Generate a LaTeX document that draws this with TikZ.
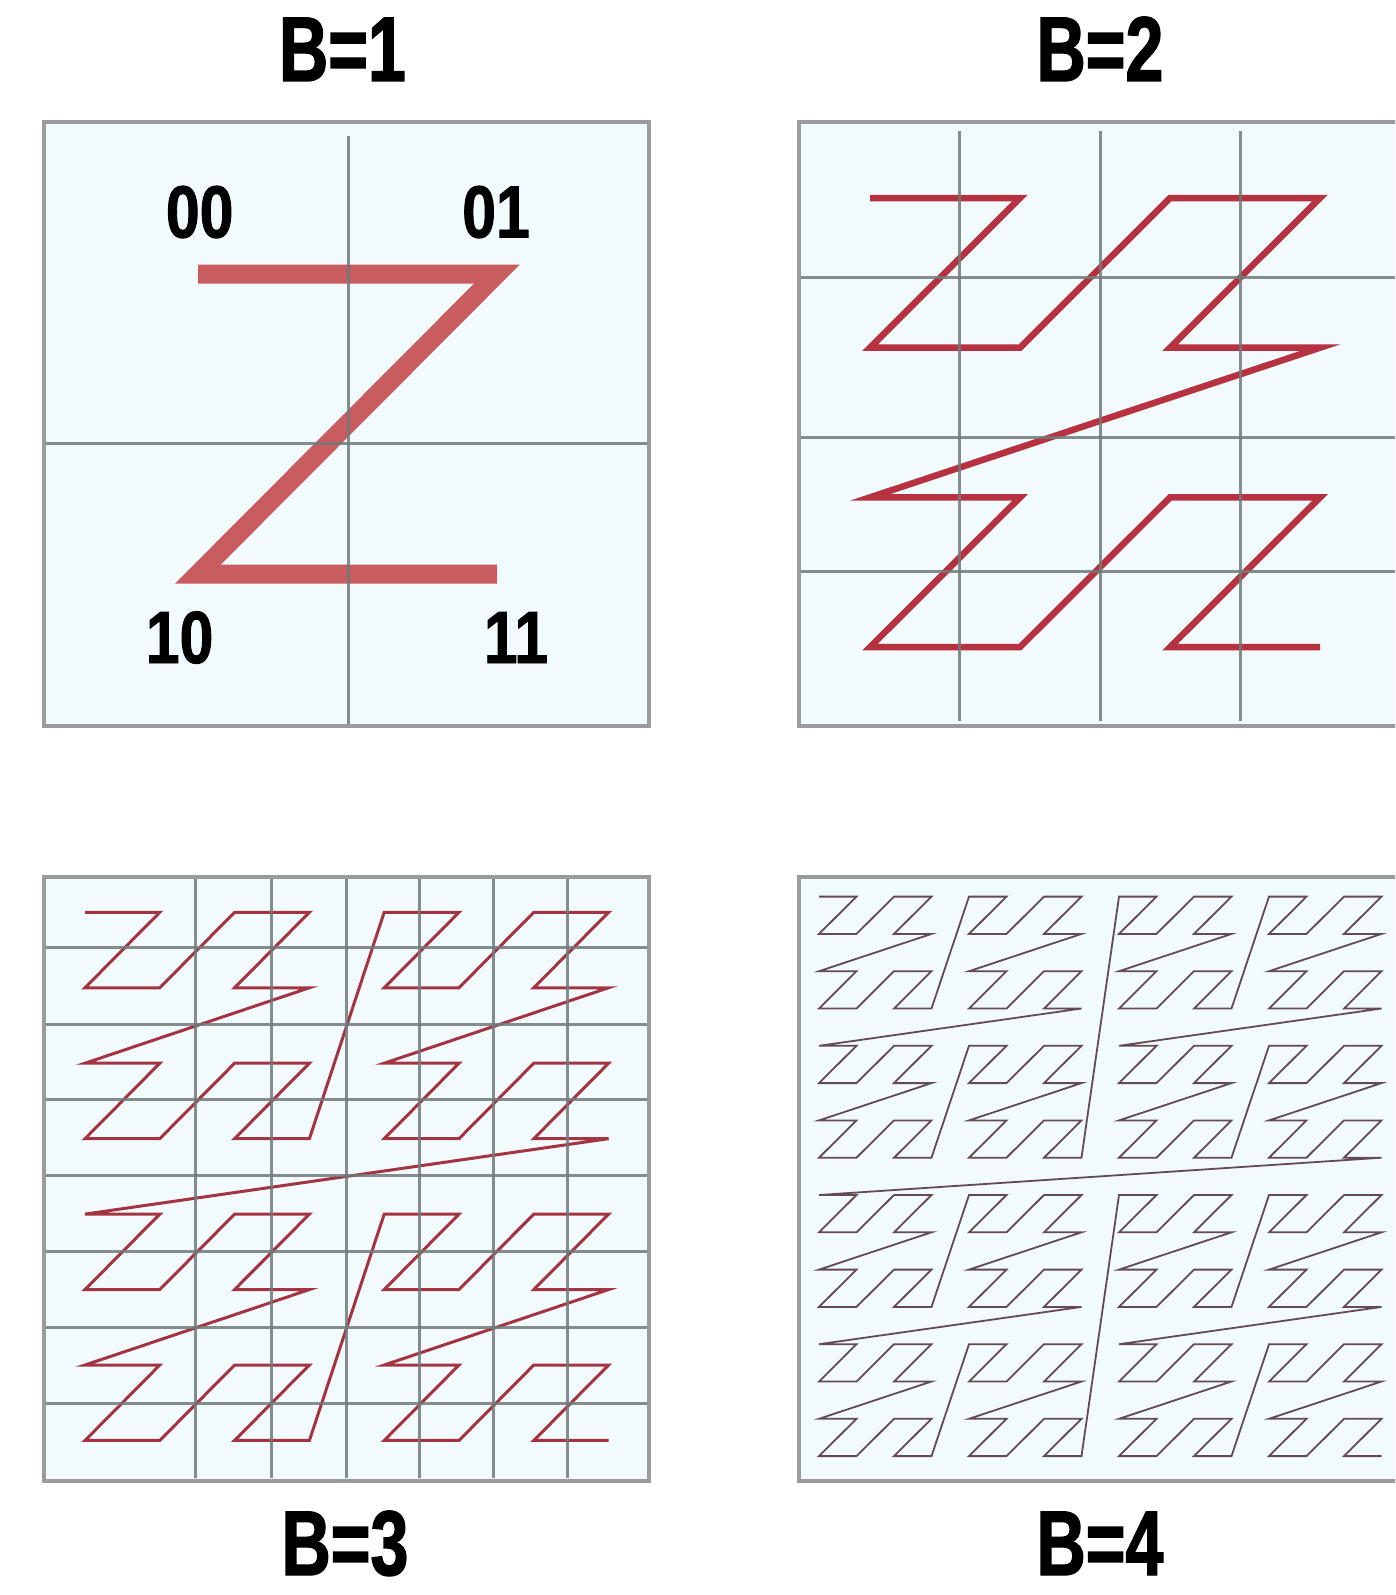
\documentclass[tikz,border=0pt]{standalone}
\usepackage{fontspec}
\newfontfamily\titlefont[FakeStretch=0.74,FakeBold=1.5]{Liberation Sans}
\newfontfamily\bitfont[FakeStretch=0.82,FakeBold=1.2]{Liberation Sans}
\definecolor{panelbg}{RGB}{241,250,252}
\definecolor{panelrim}{RGB}{155,155,155}
\definecolor{gridgray}{RGB}{112,122,122}
\definecolor{zoneA}{RGB}{200,92,94}
\definecolor{zoneB}{RGB}{182,50,64}
\definecolor{zoneC}{RGB}{165,52,66}
\definecolor{zoneD}{RGB}{100,74,82}
% column and row of the n-th point of a Z-order curve
\pgfmathdeclarefunction{zcol}{1}{\pgfmathparse{int(mod(#1,2)+2*mod(floor(#1/4),2)+4*mod(floor(#1/16),2)+8*mod(floor(#1/64),2))}}
\pgfmathdeclarefunction{zrow}{1}{\pgfmathparse{int(mod(floor(#1/2),2)+2*mod(floor(#1/8),2)+4*mod(floor(#1/32),2)+8*mod(floor(#1/128),2))}}
\tikzset{
  panel/.style={fill=panelbg,draw=panelrim,line width=4pt},
  rim/.style={draw=panelrim,line width=4pt},
  gridline/.style={draw=gridgray,line width=3pt,opacity=0.85},
  title/.style={inner sep=0pt,anchor=base,font=\titlefont\bfseries\fontsize{92}{100}\selectfont},
  bits/.style={inner sep=0pt,anchor=base,font=\bitfont\bfseries\fontsize{74}{80}\selectfont},
  zline/.style={line join=miter,line cap=butt}
}
% #1 style, (#2,#3) first point, #4 column step, #5 row step, #6 last index
\newcommand\zcurve[6]{%
  \draw[zline,#1] (#2,#3) \foreach \n in {1,...,#6} { -- ({#2+#4*zcol(\n)},{#3+#5*zrow(\n)}) };}
\begin{document}
\begin{tikzpicture}[x=1pt,y=-1pt]%
% four panels, B=1 to B=4
\useasboundingbox (0,0) rectangle (1395,1595);
\clip (0,0) rectangle (1395,1595);
\fill[white] (0,0) rectangle (1395,1595);
\fill[panelbg] (43.5,122) rectangle (648.5,725.7);
\fill[panelbg] (798.7,122) rectangle (1404,725.7);
\fill[panelbg] (43.5,876.7) rectangle (648.5,1480.7);
\fill[panelbg] (798.7,876.7) rectangle (1404,1480.7);
%
\zcurve{zoneA,line width=19pt}{198}{274}{299}{300}{3}
\zcurve{zoneB,line width=6.5pt}{870}{198}{150}{149.7}{15}
\zcurve{zoneC,line width=3pt}{85}{912.3}{74.8}{75.45}{63}
\zcurve{zoneD,line width=1.8pt}{819}{896.6}{37.5}{37.3}{255}
%
\draw[gridline] (348.7,136) -- (348.7,728);
\draw[gridline] (45,443.2) -- (648.5,443.2);
\foreach \gx in {959.5,1100,1240.4}
  \draw[gridline] (\gx,131) -- (\gx,721);
\foreach \gy in {277.5,437,571}
  \draw[gridline] (800,\gy) -- (1395,\gy);
\foreach \gx in {195.4,271.5,346.5,419.8,493.6,567.5}
  \draw[gridline] (\gx,879) -- (\gx,1478);
\foreach \gy in {947.5,1024,1099,1175,1251,1327.3,1403}
  \draw[gridline] (45,\gy) -- (648.5,\gy);
%
\draw[rim] (43.5,122) rectangle (648.5,725.7);
\draw[rim] (798.7,122) rectangle (1404,725.7);
\draw[rim] (43.5,876.7) rectangle (648.5,1480.7);
\draw[rim] (798.7,876.7) rectangle (1404,1480.7);
%
\node[title] (t1) at (342.5,81) {B=1};
\node[title] (t2) at (1100,81) {B=2};
\node[title] (t3) at (345,1575) {B=3};
\node[title] (t4) at (1100,1575) {B=4};
\node[bits] (b00) at (199.7,237.5) {00};
\node[bits] (b01) at (496,237.5) {01};
\node[bits] (b10) at (179.6,663) {10};
\node[bits] (b11) at (516,663) {11};
\end{tikzpicture}
\end{document}
